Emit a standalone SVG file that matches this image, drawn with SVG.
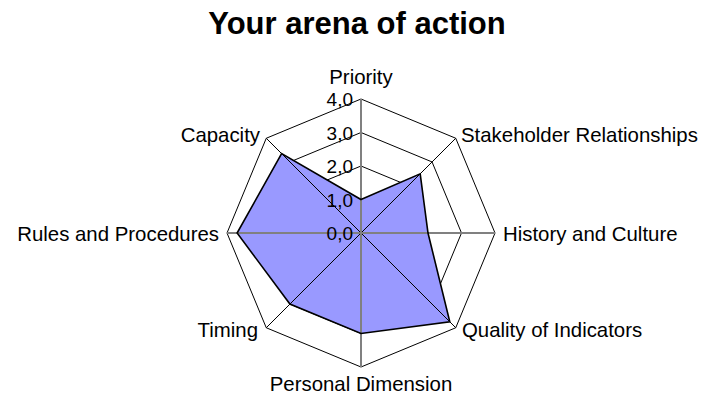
<svg xmlns="http://www.w3.org/2000/svg" width="707" height="399" viewBox="0 0 707 399">
<style>
text{font-family:"Liberation Sans",Arial,sans-serif;fill:#000}
.lbl{font-size:20.4px}
.val{font-size:19px;text-anchor:end}
.ring{fill:none;stroke:#000;stroke-width:1}
.diag{stroke:#000;stroke-width:1}
.axis{stroke:#808080;stroke-width:2}
</style>
<rect width="707" height="399" fill="#fff"/>
<text x="357" y="34" text-anchor="middle" style="font-size:31px;font-weight:bold">Your arena of action</text>
<g id="grid">
<polygon class="ring" points="361,99 455.75,138.25 495,233 455.75,327.75 361,367 266.25,327.75 227,233 266.25,138.25"/>
<polygon class="ring" points="361,132.5 432.06,161.94 461.5,233 432.06,304.06 361,333.5 289.94,304.06 260.5,233 289.94,161.94"/>
<polygon class="ring" points="361,166 408.38,185.62 428,233 408.38,280.38 361,300 313.62,280.38 294,233 313.62,185.62"/>
<polygon class="ring" points="361,199.5 384.69,209.31 394.5,233 384.69,256.69 361,266.5 337.31,256.69 327.5,233 337.31,209.31"/>
</g>
<g id="series">
<polygon points="361,199.5 420.2,173.8 428,233 449.8,321.8 361,333.5 289.9,304.1 237.1,233 281.6,153.6" fill="#9999ff" stroke="none"/>
</g>
<g id="connectors">
<line class="diag" x1="266.25" y1="138.25" x2="455.75" y2="327.75"/>
<line class="diag" x1="455.75" y1="138.25" x2="266.25" y2="327.75"/>
<line class="axis" x1="227" y1="233" x2="495" y2="233"/>
<line class="axis" x1="361" y1="99" x2="361" y2="367"/>
</g>
<g id="series-outline">
<polygon points="361,199.5 420.2,173.8 428,233 449.8,321.8 361,333.5 289.9,304.1 237.1,233 281.6,153.6" fill="none" stroke="#000" stroke-width="1.6" stroke-linejoin="miter"/>
</g>
<g id="scale">
<text class="val" x="353" y="106">4,0</text>
<text class="val" x="353" y="139.5">3,0</text>
<text class="val" x="353" y="173">2,0</text>
<text class="val" x="353" y="206.5">1,0</text>
<text class="val" x="353" y="240">0,0</text>
</g>
<g id="n-priority"><text class="lbl" x="361" y="84" text-anchor="middle">Priority</text></g>
<g id="n-stakeholder"><text class="lbl" x="461" y="142">Stakeholder Relationships</text></g>
<g id="n-history"><text class="lbl" x="503" y="241">History and Culture</text></g>
<g id="n-quality"><text class="lbl" x="462" y="337">Quality of Indicators</text></g>
<g id="n-personal"><text class="lbl" x="361" y="391" text-anchor="middle">Personal Dimension</text></g>
<g id="n-timing"><text class="lbl" x="258" y="337" text-anchor="end">Timing</text></g>
<g id="n-rules"><text class="lbl" x="219" y="241" text-anchor="end">Rules and Procedures</text></g>
<g id="n-capacity"><text class="lbl" x="260" y="142" text-anchor="end">Capacity</text></g>
</svg>
